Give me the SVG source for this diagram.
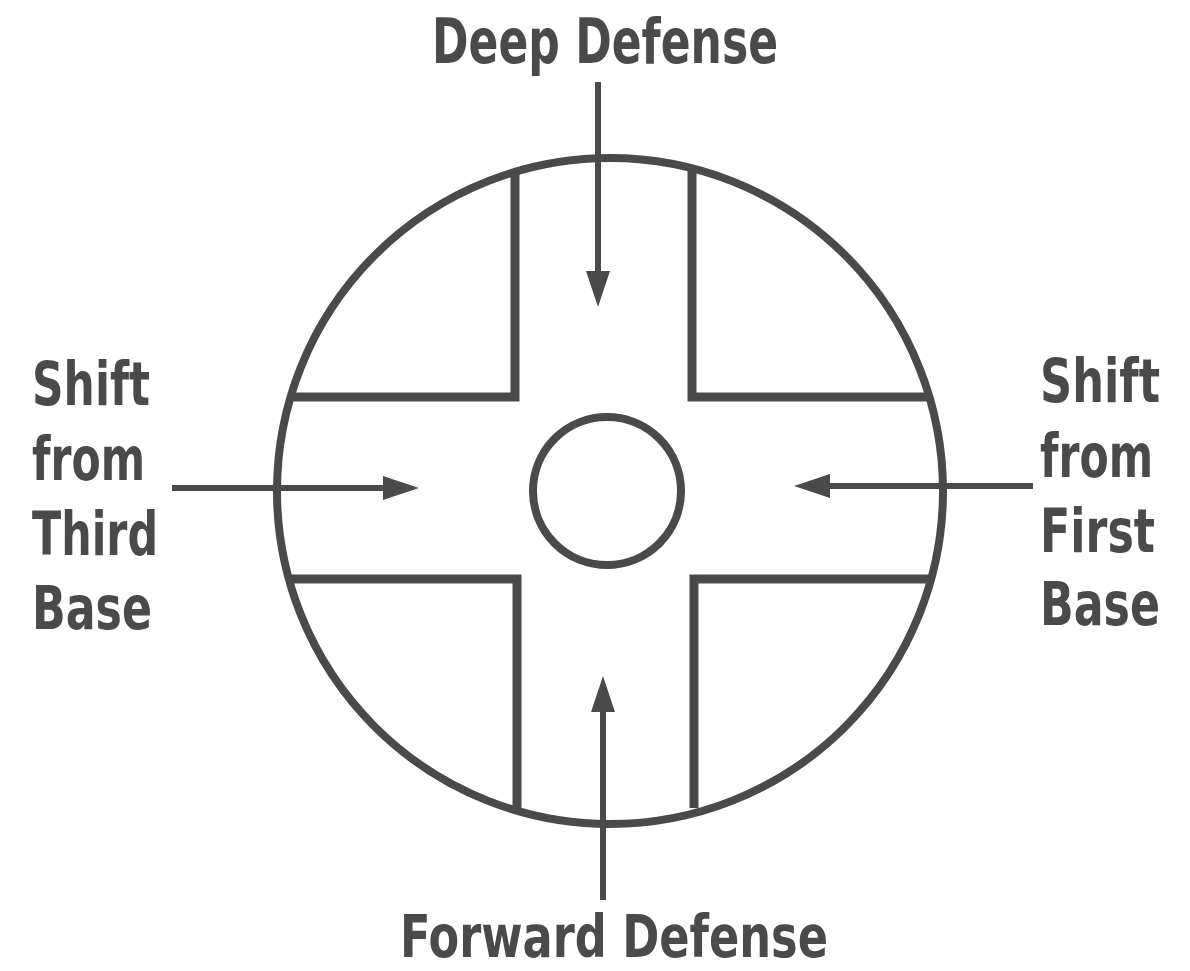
<svg xmlns="http://www.w3.org/2000/svg" width="1190" height="971" viewBox="0 0 1190 971">
<style>
.ln{fill:none;stroke:#4a4a4a;stroke-linejoin:miter;stroke-linecap:butt}
.arm{stroke-width:9}
.circ{stroke-width:8}
.arr{stroke:#4a4a4a;stroke-width:6;fill:none}
.lbl{font-family:"Liberation Sans Narrow","DejaVu Sans Condensed","Liberation Sans",sans-serif;font-weight:bold;fill:#4a4a4a}
</style>
<defs>
<marker id="ah" viewBox="0 0 36 24" refX="1" refY="12" markerWidth="36" markerHeight="24" markerUnits="userSpaceOnUse" orient="auto">
<path d="M0,0 L36,12 L0,24 z" fill="#4a4a4a"/>
</marker>
</defs>
<rect width="1190" height="971" fill="#ffffff"/>
<g id="field">
<circle class="ln circ" cx="610" cy="491" r="333"/>
<polyline class="ln arm" points="515,170 515,397 288,397"/>
<polyline class="ln arm" points="692,170 692,397 932,397"/>
<polyline class="ln arm" points="288,579 517,579 517,808"/>
<polyline class="ln arm" points="932,579 694,579 694,808"/>
</g>
<g id="center">
<circle class="ln circ" cx="607" cy="491" r="74"/>
</g>
<g id="connectors">
<line class="arr" x1="598" y1="82" x2="598" y2="272" marker-end="url(#ah)"/>
<line class="arr" x1="603" y1="900" x2="603" y2="711" marker-end="url(#ah)"/>
<line class="arr" x1="172" y1="488" x2="384" y2="488" marker-end="url(#ah)"/>
<line class="arr" x1="1033" y1="486" x2="829" y2="486" marker-end="url(#ah)"/>
</g>
<g id="label-deep">
<text class="lbl" x="432" y="63" font-size="62" textLength="346" lengthAdjust="spacingAndGlyphs">Deep Defense</text>
</g>
<g id="label-forward">
<text class="lbl" x="400" y="957" font-size="58" textLength="428" lengthAdjust="spacingAndGlyphs">Forward Defense</text>
</g>
<g id="label-third">
<text class="lbl" x="32" y="405" font-size="60" textLength="118" lengthAdjust="spacingAndGlyphs">Shift</text>
<text class="lbl" x="32" y="480" font-size="60" textLength="113" lengthAdjust="spacingAndGlyphs">from</text>
<text class="lbl" x="32" y="555" font-size="60" textLength="126" lengthAdjust="spacingAndGlyphs">Third</text>
<text class="lbl" x="32" y="629" font-size="60" textLength="120" lengthAdjust="spacingAndGlyphs">Base</text>
</g>
<g id="label-first">
<text class="lbl" x="1040" y="402" font-size="60" textLength="120" lengthAdjust="spacingAndGlyphs">Shift</text>
<text class="lbl" x="1040" y="477" font-size="60" textLength="113" lengthAdjust="spacingAndGlyphs">from</text>
<text class="lbl" x="1040" y="552" font-size="60" textLength="115" lengthAdjust="spacingAndGlyphs">First</text>
<text class="lbl" x="1040" y="625" font-size="60" textLength="120" lengthAdjust="spacingAndGlyphs">Base</text>
</g>
</svg>
